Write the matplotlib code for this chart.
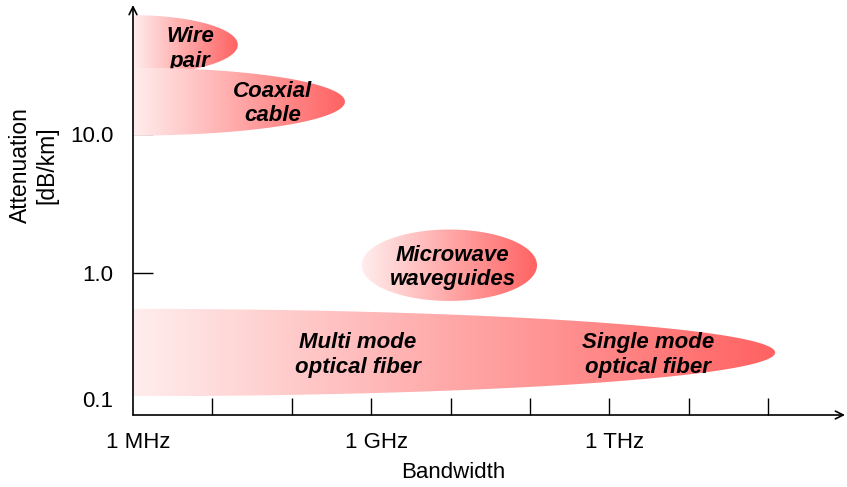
import numpy as np
import matplotlib
matplotlib.use("Agg")
import matplotlib.pyplot as plt
import matplotlib.transforms as mtransforms
from matplotlib.patches import Polygon
from matplotlib.colors import LinearSegmentedColormap

plt.rcParams['font.family'] = ['Liberation Sans', 'DejaVu Sans']

# media regions, in log10 units (bandwidth in Hz, attenuation in dB/km)
media = ['Wire\npair', 'Coaxial\ncable', 'Microwave\nwaveguides', 'Optical fiber']
bw_lo = [6.0, 6.0, 8.88, 6.0]
bw_hi = [7.32, 8.67, 11.09, 14.09]
att_lo = [1.43, 0.99, -0.20, -0.886]
att_hi = [1.857, 1.479, 0.314, -0.257]
half = [True, True, False, True]   # cut off at the axis

# label positions (log10 units)
labels = ['Wire\npair', 'Coaxial\ncable', 'Microwave\nwaveguides',
          'Multi mode\noptical fiber', 'Single mode\noptical fiber']
lab_x = [6.72, 7.76, 10.03, 8.83, 12.49]
lab_y = [1.615, 1.22, 0.04, -0.59, -0.59]

xticks = [6, 7, 8, 9, 10, 11, 12, 13, 14]
xticklabels = ['1 MHz', '', '', '1 GHz', '', '', '1 THz', '', '']
yticks = [-1, 0, 1]
yticklabels = ['0.1', '1.0', '10.0']

cmap = LinearSegmentedColormap.from_list('pinkred', ['#ffeded', '#ff6262'])

fig = plt.figure(figsize=(8.47, 4.87), dpi=100)
ax = fig.add_axes([133 / 847, 72 / 487, 712 / 847, 410 / 487])
ax.set_xlim(6, 14.97)
ax.set_ylim(-1.021, 1.93)


def shape(x0, x1, y0, y1, is_half):
    yc = (y0 + y1) / 2
    b = (y1 - y0) / 2
    if is_half:
        a = x1 - x0
        t = np.linspace(-np.pi / 2, np.pi / 2, 200)
        xs = x0 + a * np.cos(t)
        ys = yc + b * np.sin(t)
    else:
        a = (x1 - x0) / 2
        t = np.linspace(0, 2 * np.pi, 300)
        xs = x0 + a + a * np.cos(t)
        ys = yc + b * np.sin(t)
    return np.column_stack([xs, ys])


grad = np.linspace(0, 1, 256).reshape(1, -1)
order = [3, 2, 0, 1]
z = 1
for i in order:
    pts = shape(bw_lo[i], bw_hi[i], att_lo[i], att_hi[i], half[i])
    patch = Polygon(pts, closed=True, facecolor='none', edgecolor='none',
                    transform=ax.transData)
    im = ax.imshow(grad, cmap=cmap, aspect='auto', interpolation='bilinear',
                   extent=(bw_lo[i], bw_hi[i], att_lo[i], att_hi[i]),
                   zorder=z)
    im.set_clip_path(patch)
    z += 1
    # labels belonging to this shape
    for j, lab in enumerate(labels):
        owner = min(j, 3)
        if owner == i:
            ax.text(lab_x[j], lab_y[j], lab, ha='center', va='center',
                    fontsize=16, fontweight='bold', fontstyle='italic',
                    linespacing=1.22, zorder=z)
    z += 1

ax.set_xlim(6, 14.97)
ax.set_ylim(-1.021, 1.93)

for s in ax.spines.values():
    s.set_visible(False)

# axes with arrows
ax.annotate('', xy=(14.97, -1.021), xytext=(6, -1.021),
            arrowprops=dict(arrowstyle='->', lw=1.2, color='black',
                            shrinkA=0, shrinkB=0, mutation_scale=14),
            annotation_clip=False, zorder=20)
ax.annotate('', xy=(6, 1.93), xytext=(6, -1.021),
            arrowprops=dict(arrowstyle='->', lw=1.2, color='black',
                            shrinkA=0, shrinkB=0, mutation_scale=14),
            annotation_clip=False, zorder=20)

ax.set_xticks(xticks)
ax.set_xticklabels(xticklabels, fontsize=16)
ax.set_yticks(yticks)
ax.set_yticklabels(yticklabels, fontsize=16)
ax.tick_params(axis='x', direction='in', length=12.5, width=1, pad=12.5)
ax.tick_params(axis='y', direction='in', length=14.5, width=1, pad=14)
ax.xaxis.get_major_ticks()[0].tick1line.set_visible(False)
ax.yaxis.get_major_ticks()[0].tick1line.set_visible(False)
ax.yaxis.get_majorticklabels()[0].set_va('bottom')
shift = mtransforms.ScaledTranslation(5 / 100, 0, fig.dpi_scale_trans)
for lab in ax.get_xticklabels():
    lab.set_transform(lab.get_transform() + shift)
for t in ax.xaxis.get_major_ticks() + ax.yaxis.get_major_ticks():
    t.tick1line.set_zorder(20)

ax.set_xlabel('Bandwidth', fontsize=16)
ax.xaxis.set_label_coords((453 - 133) / 712, -0.115)
fig.text(34 / 847, 1 - 165 / 487, 'Attenuation\n[dB/km]', rotation=90,
         ha='center', va='center', fontsize=16.5, multialignment='center',
         linespacing=1.2)

fig.savefig('out.png', dpi=100)
